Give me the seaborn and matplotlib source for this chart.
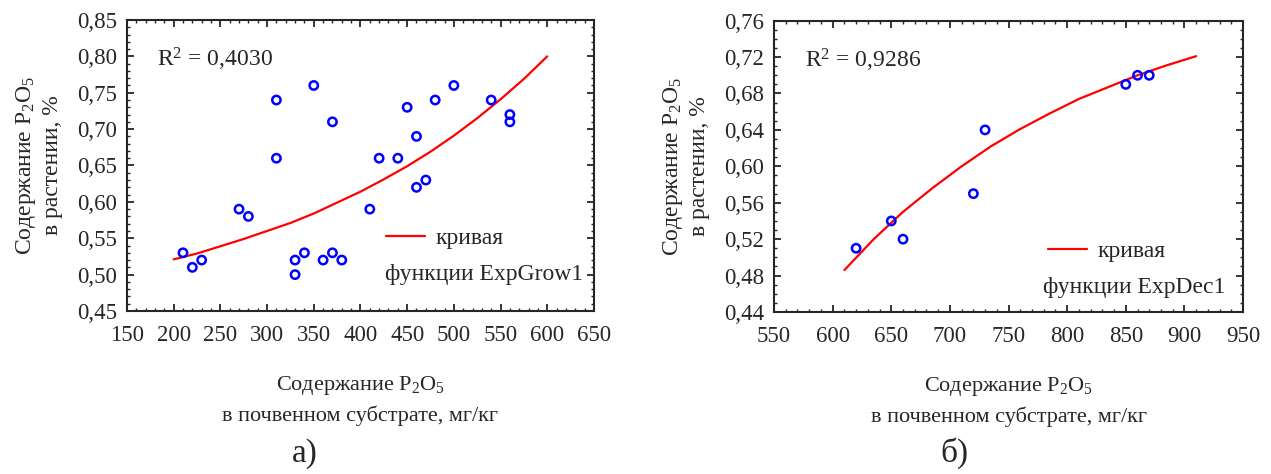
import numpy as np
import pandas as pd
import matplotlib
matplotlib.use("Agg")
import matplotlib.pyplot as plt
from matplotlib.ticker import MultipleLocator, AutoMinorLocator, FuncFormatter
import seaborn as sns

# %% data - panel a
soil_a = [210, 220, 230, 270, 280, 310, 310, 330, 330, 340, 350, 360, 370, 370,
          380, 410, 420, 440, 450, 460, 460, 470, 480, 500, 540, 560, 560]
plant_a = [0.53, 0.51, 0.52, 0.59, 0.58, 0.74, 0.66, 0.52, 0.50, 0.53, 0.76, 0.52,
           0.71, 0.53, 0.52, 0.59, 0.66, 0.66, 0.73, 0.69, 0.62, 0.63, 0.74, 0.76,
           0.74, 0.72, 0.71]
curve_a_x = [200, 225, 250, 275, 300, 325, 350, 375, 400, 425, 450, 475, 500,
             525, 550, 575, 600]
curve_a_y = [0.521, 0.529, 0.539, 0.549, 0.560, 0.571, 0.584, 0.599, 0.614,
             0.631, 0.649, 0.669, 0.691, 0.715, 0.741, 0.769, 0.800]

# %% data - panel b
soil_b = [620, 650, 660, 720, 730, 850, 860, 870]
plant_b = [0.51, 0.54, 0.52, 0.57, 0.64, 0.69, 0.70, 0.70]
curve_b_x = [610, 635, 660, 685, 710, 735, 760, 785, 810, 835, 860, 885, 910]
curve_b_y = [0.486, 0.520, 0.550, 0.576, 0.600, 0.622, 0.641, 0.658, 0.674,
             0.687, 0.700, 0.711, 0.721]

# %% style
sns.set_style("ticks")
plt.rcParams["font.family"] = ["Liberation Serif", "DejaVu Serif"]
plt.rcParams["axes.linewidth"] = 1.5

fig = plt.figure(figsize=(12.71, 4.74), dpi=100)
ax1 = fig.add_axes([0.0999, 0.3439, 0.3674, 0.6139])
ax2 = fig.add_axes([0.609, 0.3418, 0.369, 0.6146])

comma = FuncFormatter(lambda v, p: f"{v:.2f}".replace(".", ","))
ylab = "Содержание P$\\mathregular{_2}$O$\\mathregular{_5}$\nв растении, %"
xlab = "Содержание P$\\mathregular{_2}$O$\\mathregular{_5}$\nв почвенном субстрате, мг/кг"


def draw(ax, sx, sy, cx, cy, r2, fname, xlim, ylim, ystep, yminor, leg_x, leg_y, txt_x):
    df = pd.DataFrame({"x": sx, "y": sy})
    cf = pd.DataFrame({"x": cx, "y": cy})
    sns.lineplot(data=cf, x="x", y="y", ax=ax, color="#ff0000", lw=1.6,
                 label="кривая", sort=False)
    sns.scatterplot(data=df, x="x", y="y", ax=ax, marker="o", s=36,
                    facecolor="none", edgecolor="#0000ff", linewidth=1.8, zorder=3)
    ax.set_xlim(*xlim)
    ax.set_ylim(*ylim)
    ax.xaxis.set_major_locator(MultipleLocator(50))
    ax.xaxis.set_minor_locator(AutoMinorLocator(5))
    ax.yaxis.set_major_locator(MultipleLocator(ystep))
    ax.yaxis.set_minor_locator(AutoMinorLocator(yminor))
    ax.yaxis.set_major_formatter(comma)
    ax.tick_params(which="both", direction="in", top=True, right=True,
                   labelsize=16.5)
    ax.tick_params(axis="x", pad=10)
    ax.tick_params(axis="y", pad=7)
    ax.tick_params(which="major", length=5, width=1.3)
    ax.tick_params(which="minor", length=2.5, width=1)
    ax.set_ylabel(ylab, fontsize=17, linespacing=1.25, labelpad=10)
    ax.set_xlabel(xlab, fontsize=16, linespacing=1.6, labelpad=20)
    ax.text(0.065, 0.865, "R$\\mathregular{^2}$ = " + r2, transform=ax.transAxes,
            fontsize=17, va="center")
    ax.legend(loc="upper left", bbox_to_anchor=(leg_x, leg_y), frameon=False,
              fontsize=17, handlelength=1.65, handletextpad=0.45, borderaxespad=0)
    ax.text(txt_x, leg_y - 0.158, "функции " + fname, transform=ax.transAxes,
            fontsize=17, va="top")
    for s in ax.spines.values():
        s.set_visible(True)


draw(ax1, soil_a, plant_a, curve_a_x, curve_a_y, "0,4030", "ExpGrow1",
     (150, 650), (0.45, 0.85), 0.05, 5, 0.534, 0.318, 0.553)
draw(ax2, soil_b, plant_b, curve_b_x, curve_b_y, "0,9286", "ExpDec1",
     (550, 950), (0.44, 0.76), 0.04, 4, 0.565, 0.278, 0.574)

fig.text(0.240, 0.025, "а)", fontsize=24, ha="center")
fig.text(0.751, 0.025, "б)", fontsize=24, ha="center")

fig.savefig("out.png", dpi=100)
